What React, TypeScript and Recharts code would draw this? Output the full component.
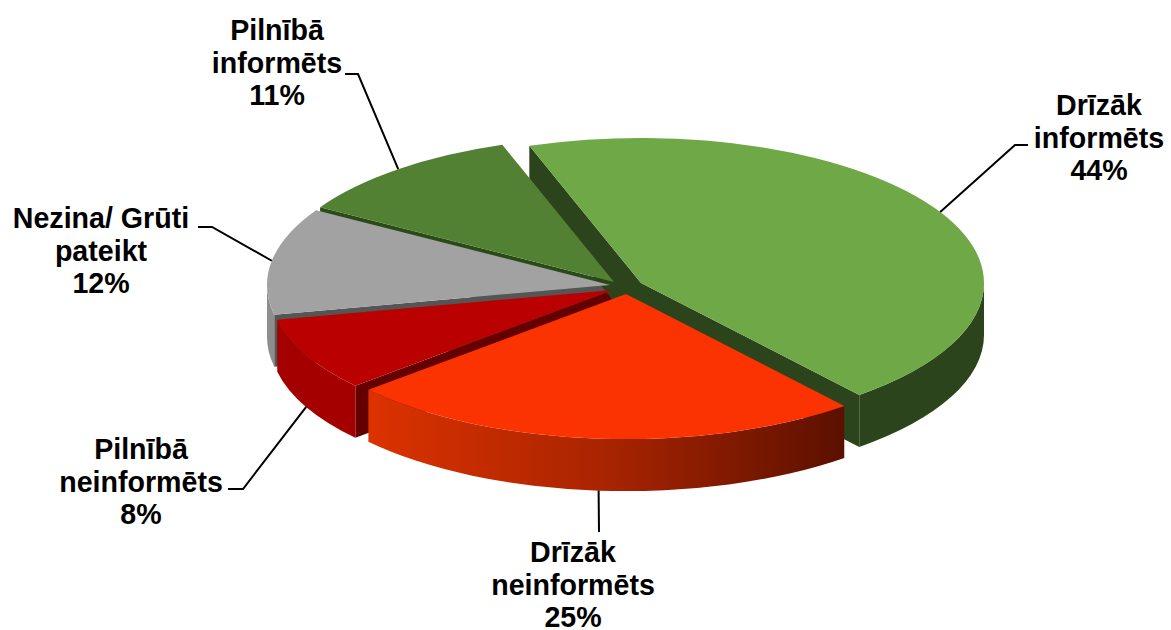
import { PieChart, Pie } from "recharts";

const categories = ["Drīzāk\ninformēts", "Drīzāk\nneinformēts", "Pilnībā\nneinformēts", "Nezina/ Grūti\npateikt", "Pilnībā\ninformēts"];
// the labels show these rounded
const shares = [44.3, 24.5, 8.2, 11.9, 11.1];

// look of the fake 3d pie
const topFills = ["#6fa846", "#fb3300", "#bb0000", "#a2a2a2", "#538133"];
const wallFills = ["#2c441c", "url(#orangeWall)", "#a50000", "#8e8e8e", "#2c441c"];
const faceFills = ["#2c441c", "#5c1000", "#640000", "#555555", "#2a4a16"];
const explodeX = [16, 1, -12, -15, -11];
const explodeY = [-2, 9, 5, 0, -3];
// label layout: text centre, first baseline, leader elbow and where the leader stops
const labelX = [1099, 573, 141, 101, 277];
const labelY = [115, 562, 459, 228, 40];
const elbowX = [1015, 599, 243, 212, 358];
const elbowY = [145, 532, 489, 227, 74];
const endX = [1028, 599, 228, 198, 345];

const SQUASH = 0.423;
const DEPTH = 52;
const LINE_HEIGHT = 32.5;

const table = categories.map((name, i) => ({ name, value: shares[i], slot: i }));

const rad = (deg: number) => (deg * Math.PI) / 180;

function point(p: any, angle: number) {
  return {
    x: p.cx + explodeX[p.slot] + p.outerRadius * Math.cos(rad(angle)),
    y: p.cy + explodeY[p.slot] - p.outerRadius * SQUASH * Math.sin(rad(angle)),
  };
}

function centre(p: any) {
  return { x: p.cx + explodeX[p.slot], y: p.cy + explodeY[p.slot] };
}

function TopShape(p: any) {
  const c = centre(p);
  const a = point(p, p.startAngle);
  const b = point(p, p.endAngle);
  const rx = p.outerRadius;
  const ry = rx * SQUASH;
  const large = p.startAngle - p.endAngle > 180 ? 1 : 0;
  return <path d={`M${c.x},${c.y} L${a.x},${a.y} A${rx},${ry} 0 ${large} 1 ${b.x},${b.y} Z`} fill={topFills[p.slot]} />;
}

function OuterWall(p: any) {
  const from = Math.min(p.startAngle, 0);
  const to = Math.max(p.endAngle, -180);
  if (from <= to) return <g />;
  const a = point(p, from);
  const b = point(p, to);
  const rx = p.outerRadius;
  const ry = rx * SQUASH;
  return (
    <path
      d={`M${a.x},${a.y} A${rx},${ry} 0 0 1 ${b.x},${b.y} L${b.x},${b.y + DEPTH} A${rx},${ry} 0 0 0 ${a.x},${a.y + DEPTH} Z`}
      fill={wallFills[p.slot]}
    />
  );
}

// this pass runs over the slices back to front, so its angles come in reversed
function RadialFaces(p: any) {
  const c = centre(p);
  const first = Math.max(p.startAngle, p.endAngle);
  const last = Math.min(p.startAngle, p.endAngle);
  const faces = [];
  if (Math.cos(rad(first)) < 0) faces.push(point(p, first));
  if (Math.cos(rad(last)) > 0) faces.push(point(p, last));
  return (
    <g>
      {faces.map((f, i) => (
        <path
          key={i}
          d={`M${c.x},${c.y} L${f.x},${f.y} L${f.x},${f.y + DEPTH} L${c.x},${c.y + DEPTH} Z`}
          fill={faceFills[p.slot]}
        />
      ))}
    </g>
  );
}

function SliceLabel(p: any) {
  const i = p.slot;
  const start = point(p, p.midAngle);
  const y = Math.sin(rad(p.midAngle)) < 0 ? start.y + DEPTH : start.y;
  const lines = [...categories[i].split("\n"), `${Math.round(shares[i])}%`];
  return (
    <g>
      <polyline
        points={`${start.x},${y} ${elbowX[i]},${elbowY[i]} ${endX[i]},${elbowY[i]}`}
        fill="none"
        stroke="#000"
        strokeWidth={2}
      />
      <text textAnchor="middle" fontFamily="'Liberation Sans', Arial, sans-serif" fontWeight="bold" fontSize={28.6} fill="#000">
        {lines.map((line, n) => (
          <tspan key={n} x={labelX[i]} y={labelY[i] + n * LINE_HEIGHT}>
            {line}
          </tspan>
        ))}
      </text>
    </g>
  );
}

export default function App() {
  const pieProps = {
    dataKey: "value",
    nameKey: "name",
    cx: 625,
    cy: 285,
    outerRadius: 343,
    stroke: "none",
    isAnimationActive: false,
    labelLine: false,
  };
  return (
    <div style={{ position: "absolute", left: 0, top: 0, width: 1171, height: 630, background: "#fff" }}>
      <PieChart width={1171} height={630} margin={{ top: 0, right: 0, bottom: 0, left: 0 }}>
        <defs>
          <linearGradient id="orangeWall" x1="0" y1="0" x2="1" y2="0">
            <stop offset="0%" stopColor="#dc3200" />
            <stop offset="50%" stopColor="#a82400" />
            <stop offset="100%" stopColor="#5c1000" />
          </linearGradient>
        </defs>
        <Pie {...pieProps} data={[...table].reverse()} startAngle={-251} endAngle={109} shape={RadialFaces} />
        <Pie {...pieProps} data={table} startAngle={109} endAngle={-251} shape={OuterWall} />
        <Pie {...pieProps} data={table} startAngle={109} endAngle={-251} shape={TopShape} label={SliceLabel} />
      </PieChart>
    </div>
  );
}
